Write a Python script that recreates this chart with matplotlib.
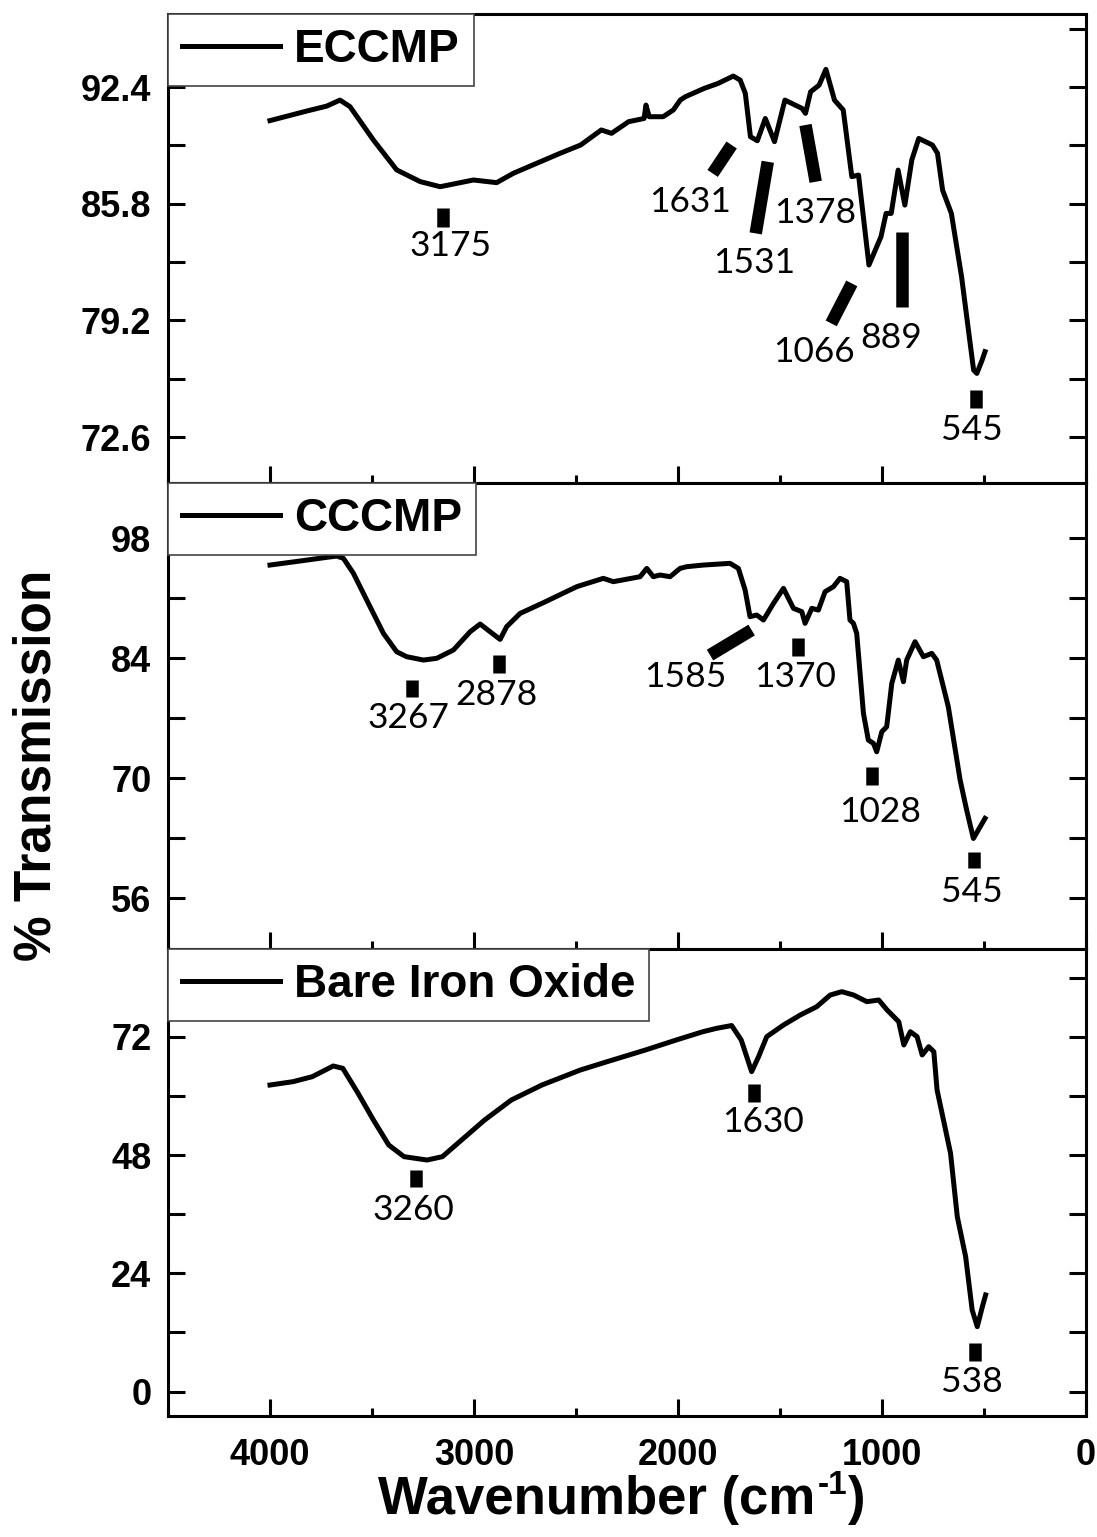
import numpy as np
import matplotlib
matplotlib.use('Agg')
import matplotlib.pyplot as plt
from matplotlib.ticker import MultipleLocator

plt.rcParams['font.family'] = ['Liberation Sans', 'DejaVu Sans']
plt.rcParams['font.weight'] = 'bold'

# ---- spectra (wavenumber cm-1, % transmission) ----
eccmp_wn = [4000, 3820, 3722, 3657, 3608, 3493, 3379, 3264, 3166, 3003, 2889, 2807,
            2578, 2477, 2376, 2326, 2242, 2166, 2157, 2141, 2073, 2023, 1989, 1964,
            1872, 1804, 1729, 1695, 1670, 1645, 1611, 1572, 1527, 1476, 1392, 1375,
            1350, 1308, 1275, 1233, 1190, 1148, 1115, 1064, 1005, 980, 955, 921,
            888, 854, 820, 753, 728, 703, 660, 610, 551, 535, 509, 495]
eccmp_t = [90.50, 91.04, 91.32, 91.66, 91.29, 89.40, 87.71, 87.05, 86.76, 87.14, 86.99, 87.52,
           88.65, 89.12, 89.97, 89.78, 90.44, 90.62, 91.38, 90.72, 90.72, 91.10, 91.66, 91.85,
           92.32, 92.60, 93.02, 92.79, 92.04, 89.59, 89.36, 90.62, 89.31, 91.66, 91.19, 90.91,
           92.13, 92.51, 93.40, 91.66, 91.10, 87.33, 87.42, 82.33, 83.93, 85.25, 85.25, 87.70,
           85.72, 88.27, 89.49, 89.12, 88.65, 86.57, 85.25, 81.67, 76.39, 76.20, 76.96, 77.43]

cccmp_wn = [4000, 3853, 3722, 3673, 3640, 3591, 3526, 3444, 3379, 3330, 3248, 3183,
            3101, 3019, 2970, 2921, 2872, 2840, 2774, 2660, 2496, 2366, 2317, 2186,
            2153, 2121, 2088, 2039, 1990, 1957, 1876, 1745, 1704, 1671, 1647, 1614,
            1581, 1532, 1483, 1434, 1393, 1377, 1344, 1312, 1279, 1238, 1206, 1173,
            1157, 1140, 1124, 1091, 1067, 1042, 1026, 1001, 977, 952, 920, 895,
            879, 838, 797, 756, 732, 675, 617, 585, 552, 519, 495]
cccmp_t = [94.88, 95.35, 95.78, 95.93, 95.66, 93.91, 90.80, 86.91, 84.77, 84.19, 83.80, 84.00,
           84.97, 87.10, 88.00, 87.10, 86.21, 87.69, 89.24, 90.49, 92.36, 93.33, 92.94, 93.52,
           94.49, 93.52, 93.72, 93.52, 94.49, 94.69, 94.88, 95.08, 94.49, 91.97, 88.86, 89.05,
           88.47, 90.41, 92.16, 89.83, 89.44, 88.08, 89.83, 89.63, 91.77, 92.36, 93.33, 92.94,
           88.47, 88.08, 86.91, 77.58, 74.47, 74.08, 73.10, 75.44, 76.02, 81.08, 83.80, 81.27,
           83.80, 85.94, 84.19, 84.58, 83.80, 78.36, 69.80, 66.30, 62.99, 64.35, 65.33]

bare_wn = [4000, 3887, 3793, 3690, 3643, 3568, 3493, 3418, 3343, 3230, 3155, 3042,
           2948, 2817, 2667, 2479, 2347, 2160, 2009, 1878, 1811, 1737, 1690, 1639,
           1605, 1565, 1483, 1401, 1320, 1254, 1197, 1139, 1074, 1016, 975, 918,
           893, 861, 828, 803, 771, 746, 730, 664, 631, 590, 558, 533, 508, 492]
bare_t = [62.20, 62.88, 63.89, 66.06, 65.58, 60.51, 55.10, 50.03, 47.66, 46.98, 47.66, 51.72,
          55.10, 59.16, 62.20, 65.24, 66.94, 69.30, 71.33, 73.02, 73.70, 74.27, 71.33, 64.91,
          67.95, 72.01, 74.37, 76.40, 78.09, 80.46, 81.14, 80.46, 79.11, 79.45, 77.42, 75.05,
          70.32, 73.02, 72.01, 68.29, 69.98, 68.96, 61.19, 48.34, 35.49, 27.37, 16.55, 13.17,
          17.23, 19.60]

names = ['ECCMP', 'CCCMP', 'Bare Iron Oxide']

# y ticks of each panel
yticks = [[72.6, 79.2, 85.8, 92.4], [56, 70, 84, 98], [0, 24, 48, 72]]
yticklabels = [['72.6', '79.2', '85.8', '92.4'], ['56', '70', '84', '98'], ['0', '24', '48', '72']]
yminor = [[75.9, 82.5, 89.1, 95.7], [63, 77, 91], [12, 36, 60, 84]]
ylims = [(70.0, 96.53), (50.1, 104.45), (-4.96, 89.8)]

# peak labels per panel
peak_labels = [['3175', '1631', '1531', '1378', '1066', '889', '545'],
               ['3267', '2878', '1585', '1370', '1028', '545'],
               ['3260', '1630', '538']]
# marker bar ends (x0, y0, x1, y1) and label centres (x, y), in data units
peak_bars = [[(3150, 85.54, 3150, 84.50), (1830, 87.51, 1737, 89.12), (1560, 88.17, 1619, 84.12),
              (1375, 90.25, 1325, 87.04), (1148, 81.29, 1249, 79.03), (904, 84.22, 904, 79.97),
              (540, 75.26, 540, 74.22)],
             [(3305, 81.47, 3305, 79.52), (2876, 84.38, 2876, 82.32), (1843, 84.38, 1639, 87.30),
              (1410, 86.33, 1410, 84.27), (1050, 71.28, 1050, 69.22), (549, 61.44, 549, 59.50)],
             [(3286, 44.96, 3286, 41.58), (1626, 62.40, 1626, 58.82), (546, 9.79, 546, 6.27)]]
peak_text_pos = [[(3113, 83.4), (1939, 85.91), (1628, 82.42), (1325, 85.25), (1333, 77.43),
                  (955, 78.18), (560, 73.0)],
                 [(3322, 77.0), (2889, 79.72), (1965, 81.85), (1426, 81.85), (1009, 66.1),
                  (560, 56.8)],
                 [(3296, 36.84), (1582, 54.76), (558, 2.0)]]

W, H = 1097, 1537
fig = plt.figure(figsize=(W / 100, H / 100), dpi=100)
panels_px = [(14, 483), (483, 949), (949, 1416)]
series = [(eccmp_wn, eccmp_t), (cccmp_wn, cccmp_t), (bare_wn, bare_t)]

for i, (top, bot) in enumerate(panels_px):
    ax = fig.add_axes([168 / W, 1 - bot / H, (1086 - 168) / W, (bot - top) / H])
    wn, t = series[i]
    ax.plot(wn, t, color='black', lw=3.6, label=names[i], solid_joinstyle='round')

    for (x0, y0, x1, y1) in peak_bars[i]:
        ax.plot([x0, x1], [y0, y1], color='black', lw=9, solid_capstyle='butt')
    for lab, (tx, ty) in zip(peak_labels[i], peak_text_pos[i]):
        ax.text(tx, ty, lab, fontsize=25.5, family='Lato', fontweight='normal',
                ha='center', va='center')

    ax.set_xlim(4500, 0)
    ax.set_ylim(*ylims[i])
    ax.set_yticks(yticks[i], labels=yticklabels[i])
    ax.set_yticks(yminor[i], minor=True)
    ax.xaxis.set_major_locator(MultipleLocator(1000))
    ax.xaxis.set_minor_locator(MultipleLocator(500))
    ax.tick_params(axis='both', which='both', direction='in', width=2.2,
                   right=True, top=False)
    ax.tick_params(axis='y', which='both', length=12, labelsize=26, pad=12)
    ax.tick_params(axis='x', which='major', length=12, labelsize=26, pad=16)
    ax.tick_params(axis='x', which='minor', length=6)
    if i < 2:
        ax.tick_params(axis='x', labelbottom=False)
    for s in ax.spines.values():
        s.set_linewidth(2.2)

    leg = ax.legend(loc='upper left', bbox_to_anchor=(0, 1), borderaxespad=0,
                    prop={'weight': 'bold', 'size': 33}, handlelength=2.15,
                    handletextpad=0.3, borderpad=0.3, fancybox=False,
                    edgecolor='#444444', framealpha=1)
    leg.get_frame().set_linewidth(1.2)

fig.text(37 / W, 1 - 765 / H, '% Transmission', rotation=90, ha='center', va='center',
         fontsize=37, fontweight='bold')

# x label built from pieces so the superscript keeps a short hyphen
renderer = fig.canvas.get_renderer()
main = fig.text(378 / W, 1 - 1500 / H, 'Wavenumber (cm', ha='left', va='center',
                fontsize=38, fontweight='bold')
bb = main.get_window_extent(renderer)
sup = fig.text(bb.x1 / W + 2 / W, 1 - 1485 / H, '-1', ha='left', va='center',
               fontsize=24, fontweight='bold')
bb2 = sup.get_window_extent(renderer)
fig.text(bb2.x1 / W + 1 / W, 1 - 1500 / H, ')', ha='left', va='center',
         fontsize=38, fontweight='bold')

fig.savefig('out.png', dpi=100)
